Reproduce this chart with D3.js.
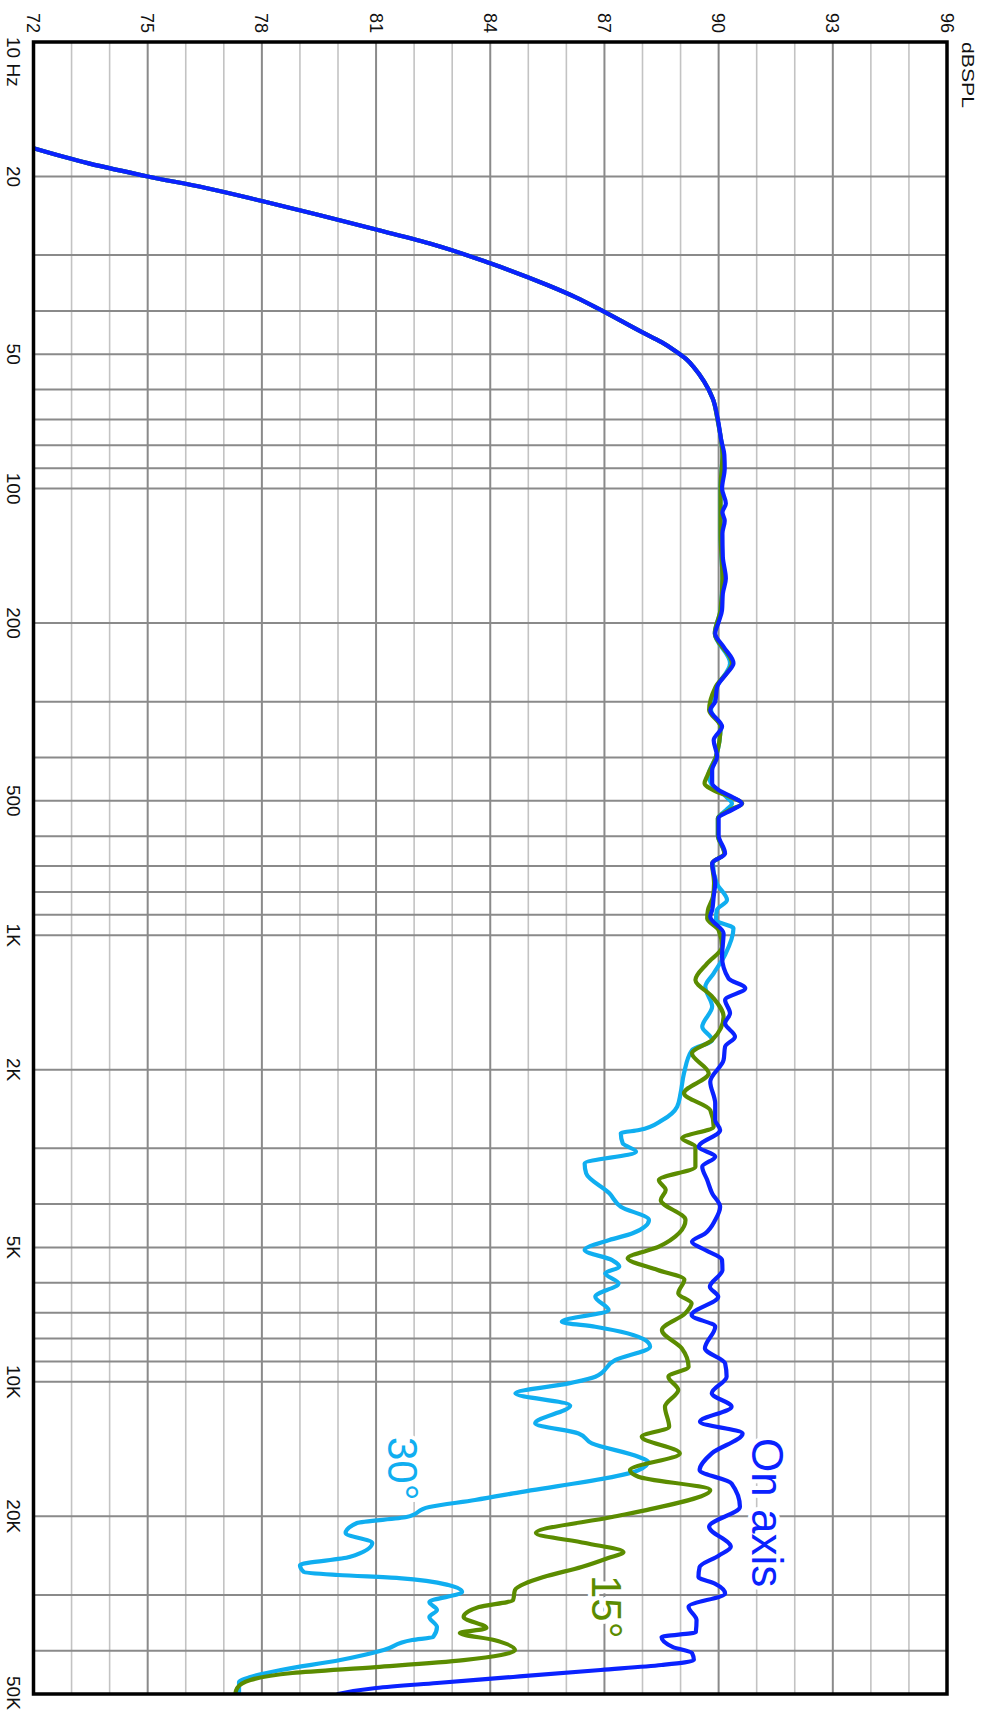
<!DOCTYPE html>
<html>
<head>
<meta charset="utf-8">
<script src="https://cdn.jsdelivr.net/npm/d3@7"></script>
<style>
  body { margin: 0; background: #fff; }
  svg { display: block; }
  text { font-family: 'Liberation Sans', Arial, Helvetica, sans-serif; }
</style>
</head>
<body>
<svg id="chart" width="981" height="1711"></svg>
<script>
// axis values
const dbTicks = [72, 75, 78, 81, 84, 87, 90, 93, 96];
const freqTicks = [10, 20, 50, 100, 200, 500, 1000, 2000, 5000, 10000, 20000, 50000];
const freqTickLabels = ['10 Hz', '20', '50', '100', '200', '500', '1K', '2K', '5K', '10K', '20K', '50K'];

// On axis
const onAxisFreq = [17.3, 18.7, 20, 21.2, 22.7, 24.4, 26.3, 28.4, 31.3, 35, 37.3, 39.8, 44.7, 47, 49.3, 51.3, 53.5, 57.6, 63, 70, 78, 84, 90,
  100, 108, 113, 118, 126, 142, 159, 172, 187, 199, 211, 226, 246, 259, 278, 300, 313, 341, 366, 398, 427, 457,
  473, 490, 507, 524, 547, 597, 656, 690, 765, 820, 878, 909, 990, 1117, 1249, 1315, 1396, 1496, 1575, 1687,
  1776, 1903, 2128, 2379, 2594, 2730, 2976, 3133, 3299, 3533, 3784, 4053, 4341, 4650, 4857, 5069, 5338, 5618,
  6124, 6449, 7087, 7526, 8414, 9090, 9739, 10612, 11367, 12284, 13048, 14463, 15759, 16884, 19043, 21113,
  23410, 24500, 25980, 27360, 28300, 29770, 31880, 34150, 36350, 37270, 39250, 40480, 41970, 43060, 44180,
  45800, 47240, 48470, 50000];
const onAxisDb = [72.0, 73.45, 75.0, 76.5, 78.0, 79.5, 81.0, 82.5, 84.0, 85.5, 86.25, 86.9, 88.0, 88.5, 88.88, 89.15, 89.35, 89.62, 89.85, 89.98, 90.07, 90.15, 90.16,
  90.09, 90.19, 90.1, 90.16, 90.1, 90.11, 90.19, 90.11, 90.09, 90.0, 89.91, 90.13, 90.39, 90.22, 89.96, 89.91, 89.78, 90.09, 89.87, 89.96, 89.83, 89.83,
  90.0, 90.35, 90.61, 90.35, 90.0, 90.0, 90.17, 89.83, 89.91, 89.87, 89.83, 89.78, 90.13, 90.09, 90.26, 90.7, 90.17, 90.3, 90.17, 90.43,
  90.17, 90.13, 89.78, 89.91, 89.91, 90.04, 89.48, 89.91, 89.57, 89.7, 89.83, 90.04, 89.91, 89.65, 89.3, 89.65, 90.09, 90.1,
  89.77, 89.99, 89.29, 89.91, 89.64, 90.17, 90.21, 89.82, 90.34, 89.51, 90.63, 89.82, 89.5, 90.34, 90.56, 89.75,
  90.32, 90.0, 89.5, 89.47, 89.9, 90.17, 89.21, 89.42, 89.4, 88.5, 88.8, 89.3, 89.35, 88.5, 86.9,
  84.6, 82.6, 81.0, 80.0];

// 15 degrees
const deg15Freq = [17.3, 18.7, 20, 21.2, 22.7, 24.4, 26.3, 28.4, 31.3, 35, 37.3, 39.8, 44.7, 47, 49.3, 51.3, 53.5, 57.6, 63, 70, 84,
  100, 126, 159, 187, 211, 246, 278, 313, 341, 398, 440, 457, 475, 490, 507, 524, 547, 597, 656, 690, 765, 820,
  878, 917, 974, 1061, 1156, 1260, 1372, 1522, 1717, 1838, 2038, 2259, 2463, 2684, 2850, 2976, 3299, 3533, 3720,
  3917, 4341, 4983, 5291, 5618, 5900, 6339, 6673, 7027, 7656, 8414, 9250, 9739, 10430, 11367, 12604, 13271,
  14463, 15759, 16310, 17475, 19373, 20080, 21800, 22960, 24050, 24800, 25980, 27360, 29260, 30810, 31940,
  33620, 35590, 36520, 37860, 39860, 41970, 43510, 44870, 46520, 48480, 50000];
const deg15Db = [72.0, 73.45, 75.0, 76.5, 78.0, 79.5, 81.0, 82.5, 84.0, 85.5, 86.25, 86.9, 88.0, 88.5, 88.88, 89.15, 89.35, 89.62, 89.85, 89.97, 90.1,
  90.05, 90.05, 90.1, 90.05, 89.9, 90.35, 89.92, 89.75, 90.05, 89.93, 89.7, 89.63, 89.9, 90.3, 90.62, 90.3, 89.98, 89.98, 90.15, 89.83, 89.88, 89.85,
  89.72, 89.7, 90.0, 90.09, 89.7, 89.39, 89.83, 90.13, 89.83, 89.3, 89.74, 89.09, 89.78, 89.87, 89.04, 89.39, 89.39, 88.43, 88.61,
  88.48, 89.13, 88.43, 87.61, 88.4, 89.1, 88.94, 89.29, 89.12, 88.51, 89.03, 89.21, 88.68, 88.94, 88.59, 88.7, 87.98,
  88.98, 87.67, 87.89, 89.78, 88.1, 87.2, 85.2, 86.5, 87.5, 87.1, 86.4, 85.4, 84.65, 84.6, 83.7,
  83.3, 83.9, 83.2, 84.1, 84.65, 83.3, 81.0, 78.8, 77.7, 77.35, 77.3];

// 30 degrees
const deg30Freq = [17.3, 18.7, 20, 21.2, 22.7, 24.4, 26.3, 28.4, 31.3, 35, 37.3, 39.8, 44.7, 47, 49.3, 51.3, 53.5, 57.6, 63, 70, 84,
  100, 126, 159, 187, 211, 246, 278, 313, 341, 398, 437, 457, 490, 507, 524, 547, 597, 656, 690, 765, 834,
  880, 925, 965, 1106, 1217, 1304, 1445, 1603, 1717, 1808, 2038, 2259, 2421, 2594, 2730, 2777, 2924, 3053, 3243,
  3414, 3784, 4053, 4341, 4650, 4813, 5069, 5338, 5523, 5716, 6020, 6449, 6906, 7336, 7526, 8062, 8342, 8938,
  9739, 10079, 10612, 11300, 12388, 13048, 13730, 14712, 15100, 15760, 17772, 18389, 19070, 20080, 20710,
  21800, 22960, 24680, 25720, 26660, 27070, 27500, 28510, 29560, 31130, 32430, 33620, 35400, 37270, 37860,
  39860, 41970, 44190, 45810, 47000, 50000];
const deg30Db = [72.0, 73.45, 75.0, 76.5, 78.0, 79.5, 81.0, 82.5, 84.0, 85.5, 86.25, 86.9, 88.0, 88.5, 88.88, 89.15, 89.35, 89.62, 89.85, 89.97, 90.1,
  90.05, 90.05, 90.1, 90.05, 89.9, 90.3, 89.95, 89.8, 90.05, 89.93, 89.74, 89.8, 90.2, 90.35, 90.2, 89.98, 89.98, 90.15, 89.85, 89.95, 90.22,
  89.95, 89.93, 90.39, 90.17, 89.87, 89.65, 89.83, 89.57, 89.83, 89.3, 89.09, 89.0, 88.91, 88.52, 87.91, 87.43, 87.48, 87.83, 86.48,
  86.52, 87.13, 87.43, 88.17, 87.74, 87.13, 86.48, 87.2, 87.39, 87.02, 87.37, 86.76, 87.11, 85.88, 86.76, 88.07, 88.2, 87.28,
  86.76, 86.06, 84.66, 86.1, 85.18, 86.32, 86.67, 87.89, 88.15, 87.9, 84.6, 83.6, 82.4, 81.8, 80.5,
  80.2, 80.9, 80.3, 79.0, 79.1, 80.0, 81.6, 82.9, 83.26, 82.4, 82.6, 82.4, 82.6, 82.5, 81.95,
  81.2, 80.06, 78.5, 77.7, 77.4, 77.4];

const series = [
  { name: '30°', freq: deg30Freq, db: deg30Db, color: '#10aef0' },
  { name: '15°', freq: deg15Freq, db: deg15Db, color: '#5b8c00' },
  { name: 'On axis', freq: onAxisFreq, db: onAxisDb, color: '#0a22ff' }
];

const plotLeft = 33.5, plotRight = 947, plotTop = 42, plotBottom = 1694;

const svg = d3.select('#chart');
const x = d3.scaleLinear().domain([72, 96]).range([plotLeft, plotRight]);
const y = d3.scaleLog().domain([10, 50000]).range([plotTop, plotBottom]);

svg.append('rect').attr('width', 981).attr('height', 1711).attr('fill', '#fff');

// grid
const grid = svg.append('g');
grid.selectAll('line.minor')
    .data(d3.range(73, 96).filter(d => d % 3 !== 0))
    .enter().append('line')
    .attr('x1', d => x(d)).attr('x2', d => x(d))
    .attr('y1', plotTop).attr('y2', plotBottom)
    .attr('stroke', '#c3c3c3').attr('stroke-width', 1.6);
grid.selectAll('line.major')
    .data(dbTicks.slice(1, -1))
    .enter().append('line')
    .attr('x1', d => x(d)).attr('x2', d => x(d))
    .attr('y1', plotTop).attr('y2', plotBottom)
    .attr('stroke', '#8a8a8a').attr('stroke-width', 2);
grid.selectAll('line.freq')
    .data(y.ticks().filter(f => f > 10 && f < 50000))
    .enter().append('line')
    .attr('x1', plotLeft).attr('x2', plotRight)
    .attr('y1', d => y(d)).attr('y2', d => y(d))
    .attr('stroke', '#8a8a8a').attr('stroke-width', 2);

// tick labels
svg.selectAll('text.db')
   .data(dbTicks)
   .enter().append('text')
   .attr('transform', d => `translate(${x(d) - 6.5},33) rotate(90)`)
   .attr('text-anchor', 'end')
   .attr('font-size', 18)
   .attr('fill', '#111')
   .text(d => d);

svg.selectAll('text.freq')
   .data(freqTicks)
   .enter().append('text')
   .attr('transform', (d, i) => {
     if (i === 0) return 'translate(7,37) rotate(90)';
     if (i === freqTicks.length - 1) return 'translate(7,1676) rotate(90)';
     return `translate(7,${y(d)}) rotate(90)`;
   })
   .attr('text-anchor', (d, i) => (i === 0 || i === freqTicks.length - 1) ? 'start' : 'middle')
   .attr('font-size', 19)
   .attr('fill', '#111')
   .text((d, i) => freqTickLabels[i]);

svg.append('text')
   .attr('transform', 'translate(961.5,42) rotate(90)')
   .attr('font-size', 17)
   .attr('textLength', 66)
   .attr('lengthAdjust', 'spacingAndGlyphs')
   .attr('fill', '#111')
   .text('dBSPL');

// curve labels, white halo cuts the grid
const labels = [
  { text: 'On axis', x: 752, y: 1438, size: 44, color: series[2].color },
  { text: '15°', x: 592, y: 1575, size: 42, color: series[1].color },
  { text: '30°', x: 388, y: 1437, size: 42, color: series[0].color }
];
svg.selectAll('text.lbl')
   .data(labels)
   .enter().append('text')
   .attr('transform', d => `translate(${d.x},${d.y}) rotate(90)`)
   .attr('font-size', d => d.size)
   .attr('fill', d => d.color)
   .attr('stroke', '#fff')
   .attr('stroke-width', 8)
   .attr('stroke-linejoin', 'round')
   .attr('paint-order', 'stroke')
   .text(d => d.text);

// curves
svg.append('clipPath').attr('id', 'plotclip')
   .append('rect').attr('x', plotLeft).attr('y', plotTop)
   .attr('width', plotRight - plotLeft).attr('height', plotBottom - plotTop);

const line = d3.line()
               .x(d => x(d[1]))
               .y(d => y(d[0]))
               .curve(d3.curveMonotoneY);

svg.append('g').attr('clip-path', 'url(#plotclip)')
   .selectAll('path')
   .data(series)
   .enter().append('path')
   .attr('d', s => line(s.freq.map((f, i) => [f, s.db[i]])))
   .attr('fill', 'none')
   .attr('stroke', s => s.color)
   .attr('stroke-width', 4.2)
   .attr('stroke-linejoin', 'round')
   .attr('stroke-linecap', 'round');

// frame
svg.append('rect')
   .attr('x', plotLeft).attr('y', plotTop)
   .attr('width', plotRight - plotLeft).attr('height', plotBottom - plotTop)
   .attr('fill', 'none')
   .attr('stroke', '#000')
   .attr('stroke-width', 3.5);
</script>
</body>
</html>
